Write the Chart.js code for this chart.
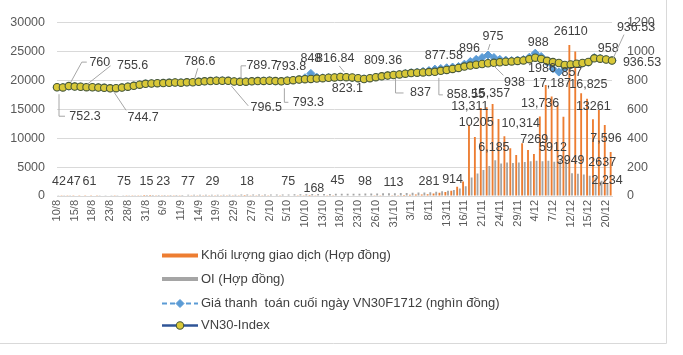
<!DOCTYPE html>
<html><head><meta charset="utf-8">
<script src="https://cdn.jsdelivr.net/npm/chart.js@4.4.1/dist/chart.umd.min.js"></script>
<style>html,body{margin:0;padding:0;background:#fff;}#wrap{width:683px;height:355px;}</style>
</head><body><div id="wrap"><canvas id="c" width="683" height="355"></canvas></div>
<script>
// ---------- DATA ----------
const categories = [
 "10/8","11/8","14/8","15/8","16/8","17/8","18/8","21/8","22/8","23/8","24/8","25/8","28/8","29/8","30/8","31/8",
 "1/9","5/9","6/9","7/9","8/9","11/9","12/9","13/9","14/9","15/9","18/9","19/9","20/9","21/9","22/9","25/9","26/9","27/9","28/9","29/9",
 "2/10","3/10","4/10","5/10","6/10","9/10","10/10","11/10","12/10","13/10","16/10","17/10","18/10","19/10","20/10","23/10","24/10","25/10","26/10","27/10","30/10","31/10",
 "1/11","2/11","3/11","6/11","7/11","8/11","9/11","10/11","13/11","14/11","15/11","16/11","17/11","20/11","21/11","22/11","23/11","24/11","27/11","28/11","29/11","30/11",
 "1/12","4/12","5/12","6/12","7/12","8/12","11/12","12/12","13/12","14/12","15/12","18/12","19/12","20/12","21/12"
];
const tickEvery = 3;

const seriesNames = [
 "Khối lượng giao dịch (Hợp đồng)",
 "OI (Hợp đồng)",
 "Giá thanh  toán cuối ngày VN30F1712 (nghìn đồng)",
 "VN30-Index"
];

const volume = [
 42,35,50,47,55,61,40,58,66,70,
 52,75,48,33,25,15,20,31,23,45,
 60,52,77,40,36,33,29,41,25,22,
 30,26,18,35,44,52,60,66,58,75,
 90,120,150,168,130,88,60,45,70,82,
 95,88,98,105,120,110,102,113,150,180,
 210,240,260,281,420,560,700,914,1600,2500,
 12300,10205,15200,15357,15900,13311,10314,8250,7100,9100,
 7960,7269,13736,19200,17187,15700,13700,26110,24970,17770,
 16825,13261,14880,12280,7596
];

const openInterest = [
 30,45,60,70,85,95,100,110,120,125,
 130,140,145,150,150,155,160,165,170,175,
 180,190,200,205,210,215,215,220,225,230,
 235,240,240,245,250,255,260,265,270,280,
 290,300,320,340,350,360,365,370,380,390,
 400,410,420,430,445,460,475,490,510,530,
 560,590,620,660,720,800,900,1050,1300,1700,
 3200,3900,4500,5200,6185,5600,5800,5700,5800,5900,
 6000,6100,6000,6100,5912,6100,6200,3949,3850,3700,
 3500,3200,2637,2234,1900
];

const futuresPrice = [
 753,753,759,758,756,754,753,751,749,746,
 747,751,757,763,771,777,779,781,782,784,
 786,785,787,788,791,794,796,798,798,797,
 793,791,792,794,796,797,798,793.8,794,798,
 802,806,818,848,822,818,820,822,824,823,
 816.84,815,811,816,823,829,834,838,843,848,
 853,857,862,868,877.58,882,887,892,896,912,
 930,945,958,975,958,945,940,937,940,944,
 960,988,965,925,880,857,885,906,913,918,
 925,958,953,945,936.53
];

const vn30Index = [
 752.3,751,760,757,755.6,753,752,750,748,744.7,
 746,750,756,762,770,776,778,780,781,783,
 785,784,786,786.6,790,793,795,797,797,796.5,
 792,789.7,791,793,795,796,797,795,793.3,797,
 801,805,808,810,812,815,818,820,823.1,822,
 820,815,809.36,815,822,828,833,837,841,846,
 850,853,855,857,858.55,866,872,879,886,895,
 902,908,913,918,921,925,929,931,934,938,
 946,957,948,935,926,920,906,910,915,920,
 927,952,950,944,936.53
];

const leftAxis = {min: 0, max: 30000, step: 5000};
const rightAxis = {min: 0, max: 1200, step: 200};

// ---------- LABEL PLACEMENT (series key, index, format, dx, dy, leader, text override) ----------
const seriesKeys = ['vol', 'oi', 'fut', 'idx'];
const dataLabels = [
 ['idx',0,'p',28,29,[[-26,-22],[-26,0],[-20,0]]],
 ['idx',2,'p',31,-24,[[-13,0],[-18,0],[-29,20]]],
 ['idx',4,'p',52,-21,[[-22,0],[-46,19]]],
 ['idx',9,'p',33,29,[[-17,-7],[-29,-25]]],
 ['idx',23,'p',7,-21,[[-2,7],[-5,17]]],
 ['idx',29,'p',38,27,[[-18,-2],[-35,-22]]],
 ['idx',31,'p',22,-16,[[-16,0],[-21,0],[-21,13]]],
 ['idx',38,'p',27,21,[[-20,0],[-24,0],[-24,-14]]],
 ['idx',48,'p',7,12,null],
 ['idx',52,'p',19,-18,null],
 ['idx',57,'p',27,18,[[-17,0],[-25,0],[-25,-14]]],
 ['idx',64,'p',31,23,[[-23,0],[-27,0],[-27,-17]]],
 ['idx',79,'p',-9,22,[[-11,-7],[-20,-16]]],
 ['idx',94,'p',30,2,null],
 ['fut',37,'p',15,-15,null],
 ['fut',43,'p',0,-15,null],
 ['fut',50,'p',-17,-19,[[4,7],[9,13]]],
 ['fut',64,'p',9,-14,null],
 ['fut',68,'p',11,-18,null],
 ['fut',73,'p',5,-18,[[-3,7],[-5,13]]],
 ['fut',81,'p',3,-11,null],
 ['fut',84,'p',-11,0,null,'1986'],
 ['fut',85,'p',13,0,null],
 ['fut',91,'p',14,-9,null],
 ['fut',94,'p',24,-33,[[-12,7],[-23,31]]],
 ['vol',0,'p',2,-14],['vol',3,'p',-1,-14],['vol',5,'p',3,-14],['vol',11,'p',2,-14],
 ['vol',15,'p',1,-14],['vol',18,'p',0,-14],['vol',22,'p',1,-14],['vol',26,'p',2,-14],
 ['vol',32,'p',1,-14],['vol',39,'p',1,-14],['vol',43,'p',3,-6],['vol',47,'p',3,-15],
 ['vol',52,'p',1,-14],['vol',57,'p',0,-13],['vol',63,'p',0,-13],['vol',67,'p',0,-11],
 ['vol',71,'p',0,-14],['vol',73,'c',3,-14],['vol',75,'c',-30,-12],['vol',76,'c',15,-13],
 ['vol',81,'p',-1,-14],['vol',82,'c',-1,-13],['vol',84,'c',-1,-13],['vol',87,'p',0,-13],
 ['vol',90,'c',0,-14],['vol',91,'p',-1,-13],['vol',94,'c',-6,-14],
 ['oi',74,'c',0,-13],['oi',84,'p',0,-14],['oi',87,'p',0,-13],['oi',92,'p',2,-18],['oi',93,'c',1,-3]
];

// ---------- CHART ----------
const FONT = '"Liberation Sans", Arial, sans-serif';
const TXT = '#595959';

const labelPlugin = {
  id: 'dataLabelsCustom',
  afterDatasetsDraw(chart) {
    const ctx = chart.ctx, xs = chart.scales.x;
    ctx.save();
    ctx.font = '12.5px ' + FONT;
    ctx.fillStyle = '#404040';
    ctx.textAlign = 'center';
    ctx.textBaseline = 'middle';
    ctx.strokeStyle = '#A6A6A6';
    ctx.lineWidth = 1;
    for (const [key, i, fmt, dx, dy, lead, txt] of dataLabels) {
      const ds = seriesKeys.indexOf(key);
      const el = chart.getDatasetMeta(ds).data[i];
      const x = xs.getPixelForValue(i), y = el.y;
      const cx = x + dx, cy = y + dy;
      const v = chart.data.datasets[ds].data[i];
      const text = txt || (fmt === 'c' ? v.toLocaleString('en-US') : String(v));
      if (lead) {
        ctx.beginPath();
        lead.forEach(([a, b], k) => k ? ctx.lineTo(cx + a, cy + b) : ctx.moveTo(cx + a, cy + b));
        ctx.stroke();
      }
      ctx.fillText(text, cx, cy);
    }
    ctx.restore();
  }
};

const legendPlugin = {
  id: 'legendCustom',
  afterDraw(chart) {
    const ctx = chart.ctx, dss = chart.data.datasets;
    const x0 = 162, x1 = 198, tx = 201;
    const ys = [255.5, 279, 303.5, 325.5];
    ctx.save();
    ctx.font = '13px ' + FONT;
    ctx.textBaseline = 'middle';
    ctx.textAlign = 'left';
    dss.forEach((d, k) => {
      const y = ys[k];
      if (d.type === 'line') {
        ctx.strokeStyle = d.borderColor;
        ctx.lineWidth = d.borderWidth;
        ctx.setLineDash(d.borderDash || []);
        ctx.beginPath(); ctx.moveTo(x0, y); ctx.lineTo(x1, y); ctx.stroke();
        ctx.setLineDash([]);
        const mx = (x0 + x1) / 2, r = d.pointRadius;
        ctx.fillStyle = d.pointBackgroundColor;
        ctx.strokeStyle = d.pointBorderColor;
        ctx.lineWidth = d.pointBorderWidth;
        ctx.beginPath();
        if (d.pointStyle === 'rectRot') {
          ctx.moveTo(mx, y - r); ctx.lineTo(mx + r, y); ctx.lineTo(mx, y + r); ctx.lineTo(mx - r, y); ctx.closePath();
        } else {
          ctx.arc(mx, y, r, 0, Math.PI * 2);
        }
        ctx.fill(); ctx.stroke();
      } else {
        ctx.fillStyle = d.backgroundColor;
        ctx.fillRect(x0, y - 2, x1 - x0, 4);
      }
      ctx.fillStyle = '#404040';
      ctx.fillText(d.label, tx, y);
    });
    // outer frame (right and bottom edges)
    ctx.strokeStyle = '#D9D9D9';
    ctx.lineWidth = 1;
    ctx.beginPath();
    ctx.moveTo(666.5, 0); ctx.lineTo(666.5, 343.5); ctx.lineTo(0, 343.5);
    ctx.stroke();
    ctx.restore();
  }
};

new Chart(document.getElementById('c'), {
  type: 'bar',
  data: {
    labels: categories,
    datasets: [
      { label: seriesNames[0], data: volume, backgroundColor: '#ED7D31', yAxisID: 'y', order: 3,
        categoryPercentage: 0.9, barPercentage: 0.7 },
      { label: seriesNames[1], data: openInterest, backgroundColor: '#A5A5A5', yAxisID: 'y', order: 3,
        categoryPercentage: 0.9, barPercentage: 0.7 },
      { type: 'line', label: seriesNames[2], data: futuresPrice, yAxisID: 'y1', order: 2,
        borderColor: '#5B9BD5', borderWidth: 2, borderDash: [5, 3], pointStyle: 'rectRot',
        pointRadius: 4, pointBackgroundColor: '#5B9BD5', pointBorderColor: '#5B9BD5', pointBorderWidth: 1,
        tension: 0, clip: false },
      { type: 'line', label: seriesNames[3], data: vn30Index, yAxisID: 'y1', order: 1,
        borderColor: '#2F5597', borderWidth: 2.5, pointStyle: 'circle',
        pointRadius: 3.7, pointBackgroundColor: '#D9C838', pointBorderColor: '#4A5A3A', pointBorderWidth: 1.1,
        tension: 0, clip: false }
    ]
  },
  options: {
    responsive: false,
    animation: false,
    events: [],
    layout: { padding: { top: 22.5, left: 0, right: 0, bottom: 0 } },
    plugins: { legend: { display: false }, tooltip: { enabled: false } },
    scales: {
      x: {
        type: 'category', offset: false,
        grid: { display: false, drawTicks: false },
        border: { display: true, color: '#D9D9D9' },
        ticks: { autoSkip: false, minRotation: 90, maxRotation: 90, padding: 4, color: TXT,
                 font: { size: 11, family: FONT },
                 callback: (v, i) => (i % tickEvery === 0 ? categories[i] : '') },
        afterFit: s => { s.height = 159; }
      },
      y: {
        position: 'left', min: leftAxis.min, max: leftAxis.max,
        grid: { color: '#D9D9D9', drawTicks: false },
        border: { display: false },
        ticks: { stepSize: leftAxis.step, padding: 12, color: TXT, font: { size: 12.5, family: FONT },
                 callback: v => String(v) },
        afterFit: s => { s.width = 57; }
      },
      y1: {
        position: 'right', min: rightAxis.min, max: rightAxis.max,
        grid: { display: false, drawTicks: false },
        border: { display: false },
        ticks: { stepSize: rightAxis.step, padding: 15, color: TXT, font: { size: 12.5, family: FONT },
                 callback: v => String(v) },
        afterFit: s => { s.width = 71; }
      }
    }
  },
  plugins: [labelPlugin, legendPlugin]
});
</script>
</body></html>
